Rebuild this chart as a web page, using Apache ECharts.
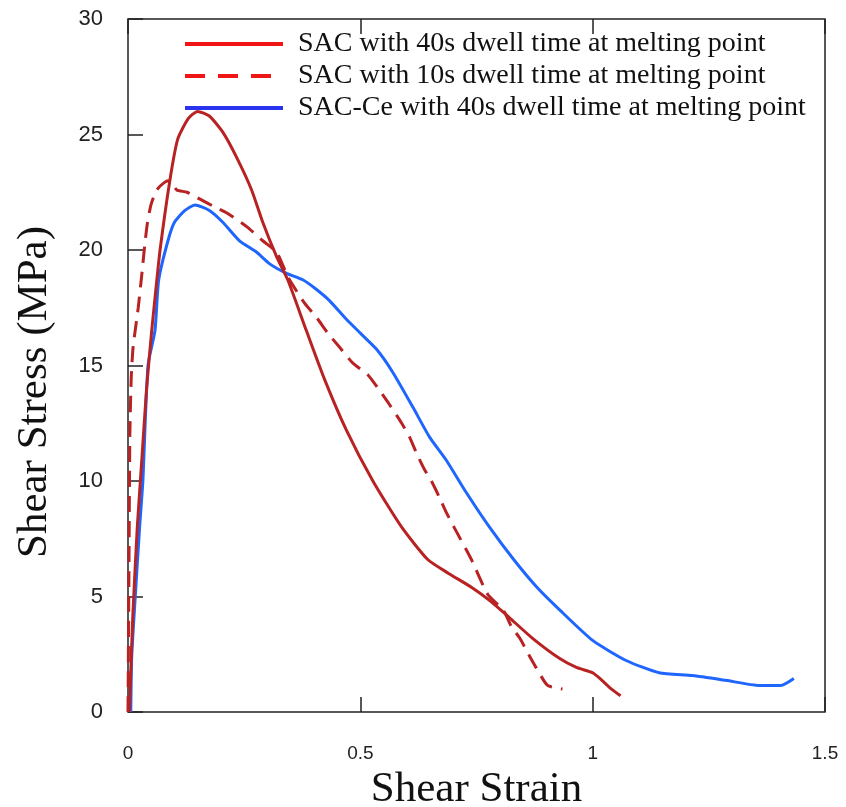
<!DOCTYPE html>
<html>
<head>
<meta charset="utf-8">
<title>Shear stress vs shear strain</title>
<script src="https://cdn.jsdelivr.net/npm/echarts@6/dist/echarts.min.js"></script>
<style>
  html, body { margin: 0; padding: 0; background: #fff; }
  #main { width: 846px; height: 807px; }
</style>
</head>
<body>
<div id="main"></div>
<script>
// series names (legend text)
var names = [
  "SAC with 40s dwell time at melting point",
  "SAC with 10s dwell time at melting point",
  "SAC-Ce with 40s dwell time at melting point"
];

// SAC, 40s dwell (solid red)
var sac40Strain = [0.003, 0.01, 0.02, 0.03, 0.04, 0.051, 0.06, 0.069, 0.09, 0.107, 0.13, 0.15, 0.175, 0.204, 0.234, 0.266, 0.29, 0.32, 0.344, 0.384, 0.423, 0.47, 0.527, 0.589, 0.645, 0.69, 0.739, 0.78, 0.82, 0.87, 0.93, 0.965, 1.0, 1.02, 1.04, 1.06];
var sac40Stress = [0, 4, 8, 11, 14, 16.5, 18.3, 20, 23, 24.8, 25.7, 26.0, 25.8, 25.1, 24.0, 22.6, 21.2, 19.7, 18.7, 16.5, 14.4, 12.2, 10.0, 8.0, 6.6, 6.0, 5.4, 4.8, 4.1, 3.2, 2.3, 1.93, 1.7, 1.37, 1.0, 0.7];

// SAC, 10s dwell (dashed red)
var sac10Strain = [0, 0.002, 0.004, 0.007, 0.011, 0.022, 0.03, 0.036, 0.042, 0.05, 0.062, 0.08, 0.09, 0.105, 0.127, 0.155, 0.183, 0.213, 0.256, 0.29, 0.32, 0.345, 0.38, 0.405, 0.43, 0.455, 0.484, 0.516, 0.542, 0.563, 0.589, 0.606, 0.621, 0.638, 0.653, 0.67, 0.686, 0.703, 0.739, 0.774, 0.808, 0.825, 0.843, 0.862, 0.879, 0.903, 0.935];
var sac10Stress = [0, 6, 12, 14.5, 15.8, 17.5, 19, 20.2, 21.2, 22.0, 22.6, 22.95, 23.0, 22.6, 22.5, 22.2, 21.9, 21.6, 21.0, 20.4, 19.9, 18.8, 17.7, 17.1, 16.4, 15.8, 15.1, 14.6, 13.9, 13.3, 12.5, 11.9, 11.2, 10.5, 10.0, 9.3, 8.6, 7.95, 6.6, 5.1, 4.4, 3.7, 3.2, 2.5, 1.9, 1.15, 1.0];

// SAC-Ce, 40s dwell (solid blue)
var sacCeStrain = [0.006, 0.008, 0.015, 0.025, 0.032, 0.043, 0.058, 0.066, 0.086, 0.1, 0.122, 0.144, 0.176, 0.204, 0.24, 0.277, 0.305, 0.34, 0.377, 0.405, 0.434, 0.47, 0.5, 0.535, 0.57, 0.613, 0.649, 0.685, 0.728, 0.778, 0.83, 0.88, 0.93, 1.0, 1.072, 1.143, 1.215, 1.287, 1.358, 1.405, 1.433];
var sacCeStress = [0, 2.4, 4.8, 8, 10, 15, 16.5, 18.7, 20.4, 21.2, 21.7, 21.95, 21.7, 21.2, 20.4, 19.9, 19.4, 19.0, 18.7, 18.3, 17.8, 17.0, 16.4, 15.7, 14.7, 13.2, 11.9, 10.9, 9.5, 8.0, 6.6, 5.4, 4.4, 3.1, 2.23, 1.7, 1.58, 1.37, 1.15, 1.15, 1.45];

// axis ticks
var xTicks = [0, 0.5, 1, 1.5];
var yTicks = [0, 5, 10, 15, 20, 25, 30];

function pairs(xs, ys) {
  return xs.map(function (x, i) { return [x, ys[i]]; });
}

var myChart = echarts.init(document.getElementById("main"));

var axisColor = "#222";
var hideDot = { opacity: 0 };

var option = {
  backgroundColor: "#fff",
  animation: false,
  grid: {
    left: 128,
    right: 21,
    top: 19,
    bottom: 95,
    containLabel: false,
    outerBoundsMode: "none",
    show: true,
    borderColor: axisColor,
    borderWidth: 1.5,
    backgroundColor: "transparent"
  },
  legend: {
    orient: "vertical",
    left: 183,
    top: 29,
    padding: 0,
    itemWidth: 98,
    itemHeight: 14,
    itemGap: 2,
    textStyle: {
      fontFamily: "Liberation Serif",
      fontSize: 28,
      color: "#111",
      lineHeight: 30,
      padding: [0, 0, 0, 10]
    },
    data: [
      { name: names[0], itemStyle: hideDot, lineStyle: { color: "#f01616", width: 4, type: "solid" } },
      { name: names[1], itemStyle: hideDot, lineStyle: { color: "#f01616", width: 4, type: [20, 13] } },
      { name: names[2], itemStyle: hideDot, lineStyle: { color: "#2a34f0", width: 4, type: "solid" } }
    ]
  },
  xAxis: [
    {
      type: "value",
      min: xTicks[0],
      max: xTicks[xTicks.length - 1],
      interval: 0.5,
      name: "Shear Strain",
      nameLocation: "middle",
      nameGap: 45,
      nameTextStyle: { fontFamily: "Liberation Serif", fontSize: 43, color: "#111" },
      axisLine: { show: false },
      axisTick: { show: true, inside: true, length: 15, lineStyle: { color: axisColor, width: 1.5 } },
      axisLabel: {
        margin: 32,
        fontFamily: "Liberation Sans",
        fontSize: 19,
        color: "#222",
        formatter: function (v) { return String(v); }
      },
      splitLine: { show: false }
    },
    {
      type: "value",
      position: "top",
      min: xTicks[0],
      max: xTicks[xTicks.length - 1],
      interval: 0.5,
      axisLine: { show: false },
      axisTick: { show: true, inside: true, length: 15, lineStyle: { color: axisColor, width: 1.5 } },
      axisLabel: { show: false },
      splitLine: { show: false }
    }
  ],
  yAxis: {
    type: "value",
    min: yTicks[0],
    max: yTicks[yTicks.length - 1],
    interval: 5,
    axisLine: { show: false },
    axisTick: { show: true, inside: true, length: 15, lineStyle: { color: axisColor, width: 1.5 } },
    axisLabel: {
      margin: 25,
      fontFamily: "Liberation Sans",
      fontSize: 22,
      color: "#222"
    },
    splitLine: { show: false }
  },
  graphic: [
    {
      type: "text",
      x: 35,
      y: 392,
      rotation: Math.PI / 2,
      style: {
        text: "Shear Stress (MPa)",
        font: "43px 'Liberation Serif'",
        fill: "#111",
        align: "center",
        verticalAlign: "middle"
      }
    }
  ],
  series: [
    {
      name: names[0],
      type: "line",
      data: pairs(sac40Strain, sac40Stress),
      symbol: "none",
      smooth: 0.2,
      z: 3,
      lineStyle: { color: "#b82222", width: 3 },
      itemStyle: { color: "#b82222" }
    },
    {
      name: names[1],
      type: "line",
      data: pairs(sac10Strain, sac10Stress),
      symbol: "none",
      smooth: 0.2,
      z: 3,
      lineStyle: { color: "#b82222", width: 3, type: [16, 9] },
      itemStyle: { color: "#b82222" }
    },
    {
      name: names[2],
      type: "line",
      data: pairs(sacCeStrain, sacCeStress),
      symbol: "none",
      smooth: 0.2,
      z: 2,
      lineStyle: { color: "#1f66ff", width: 3 },
      itemStyle: { color: "#1f66ff" }
    }
  ]
};

myChart.setOption(option);
</script>
</body>
</html>
